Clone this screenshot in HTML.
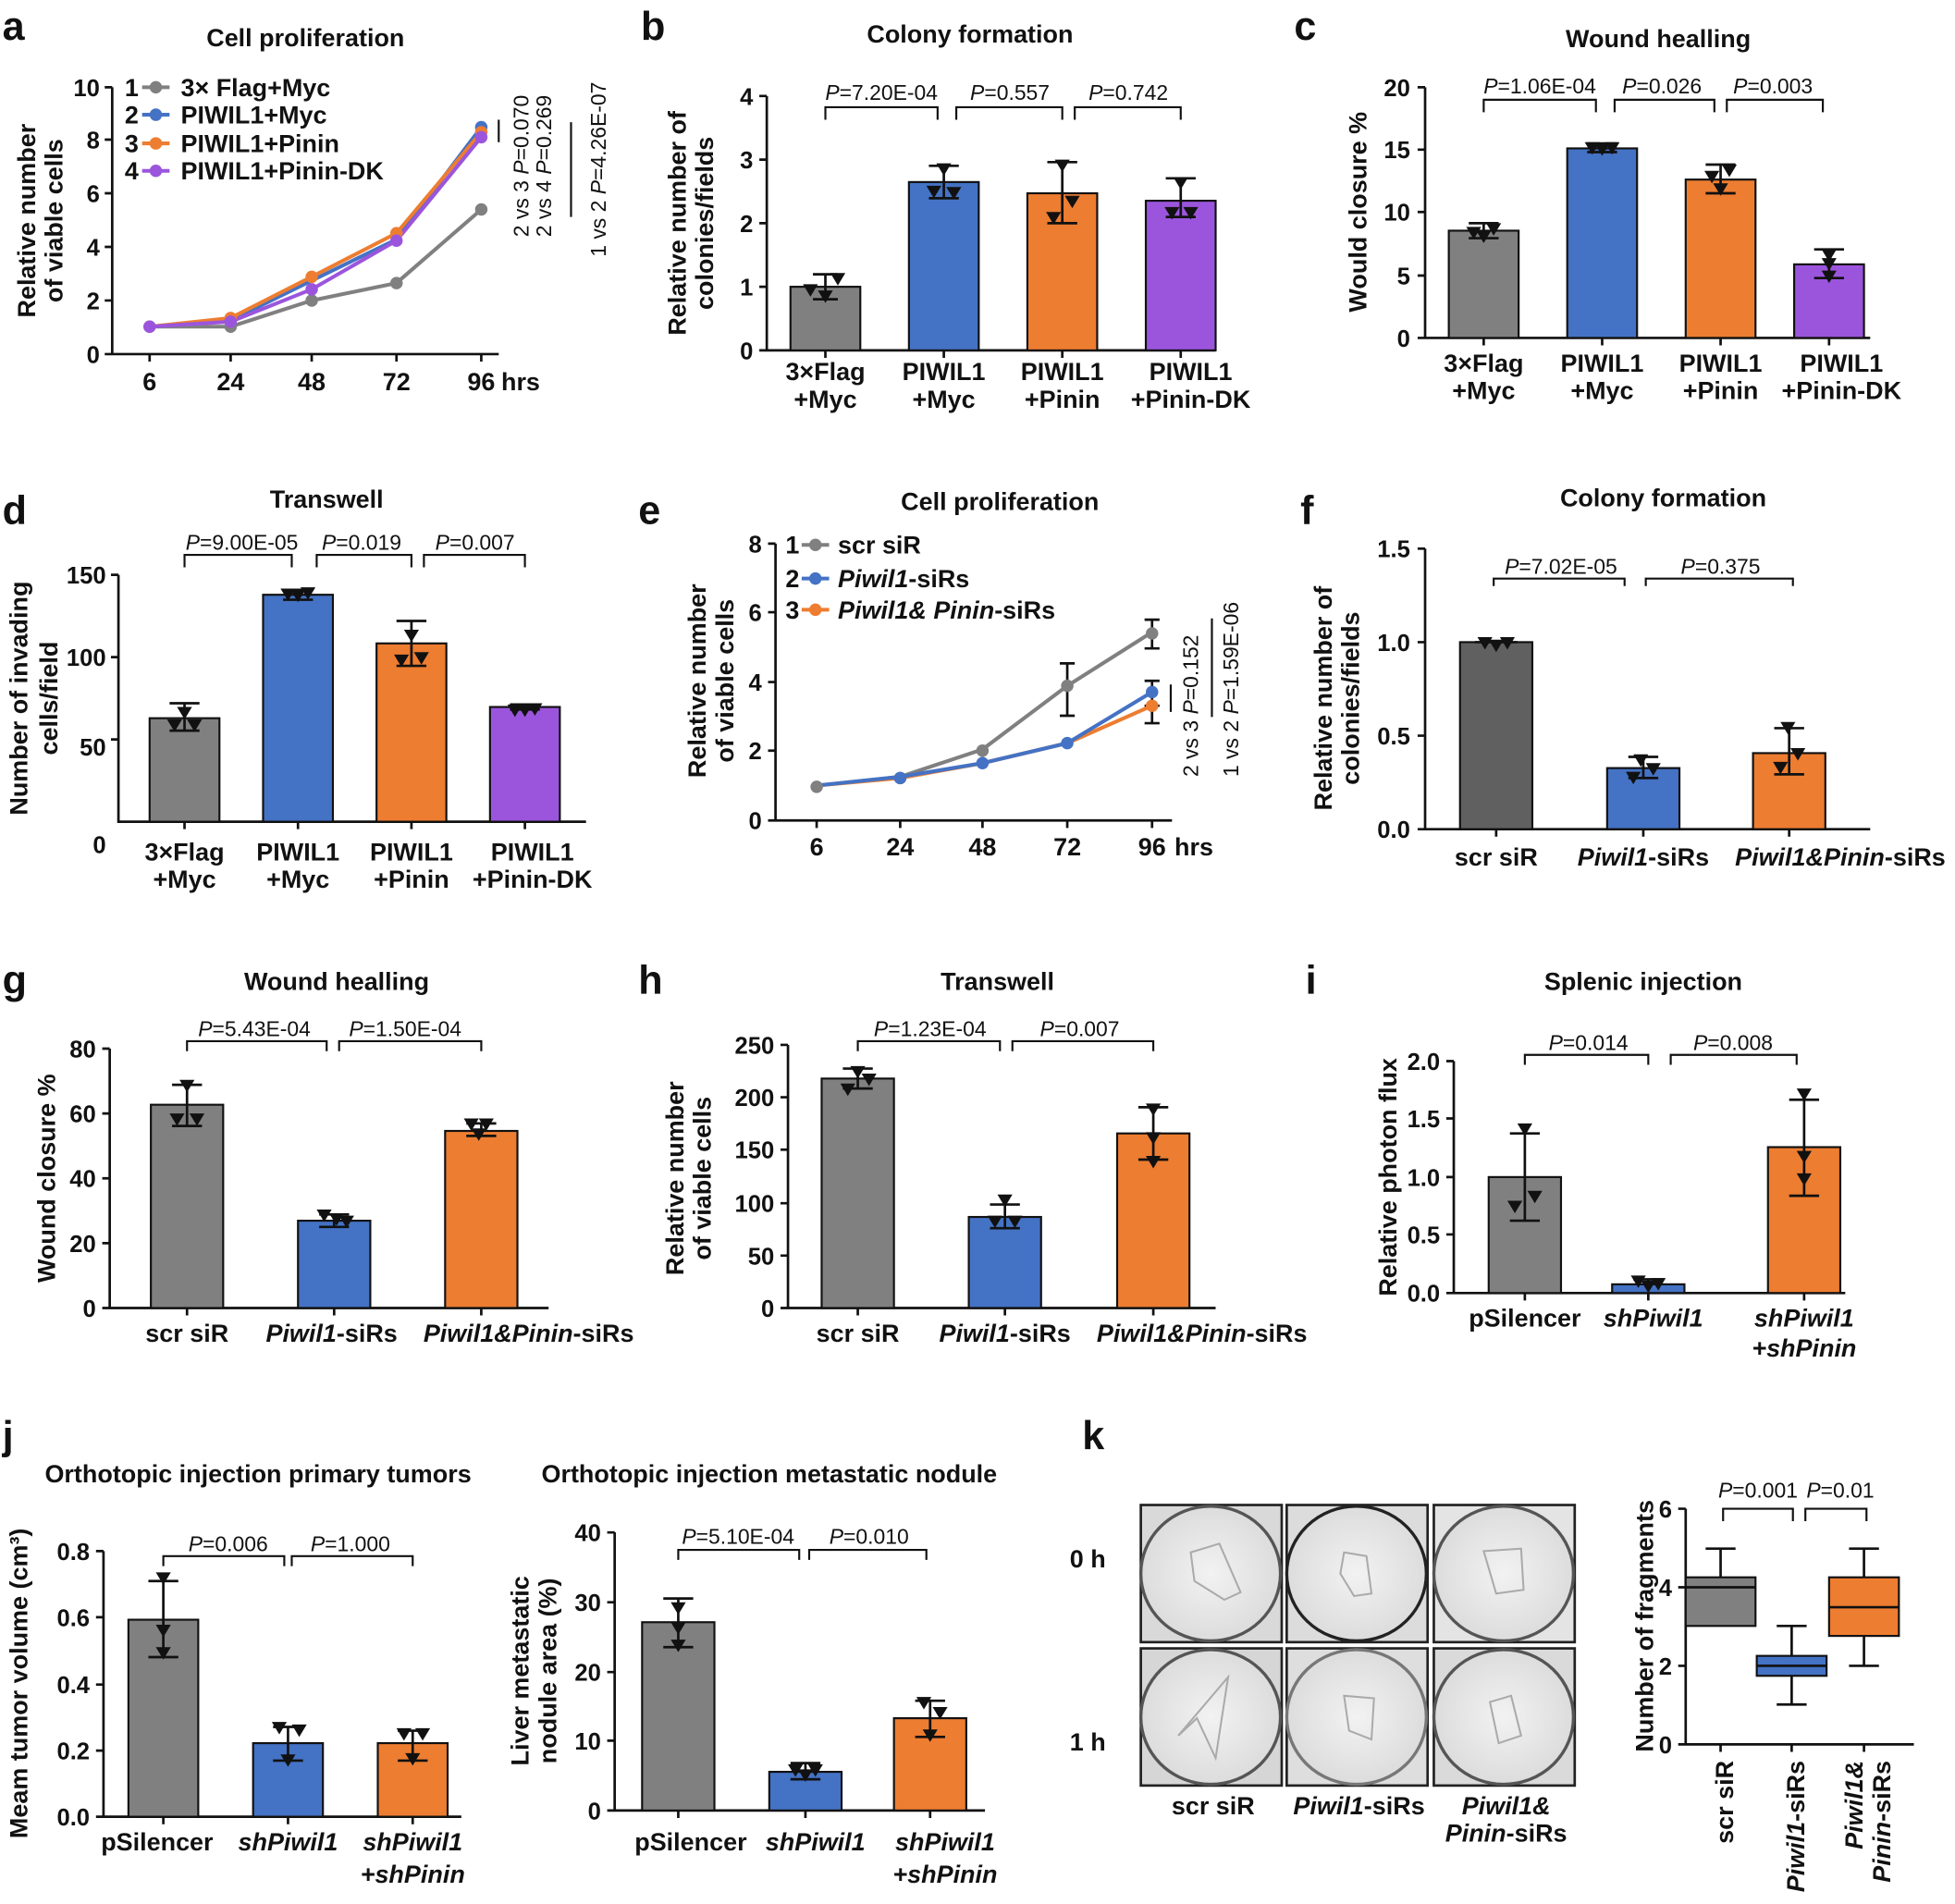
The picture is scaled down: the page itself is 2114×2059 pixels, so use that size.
<!DOCTYPE html>
<html><head><meta charset="utf-8">
<style>
html,body{margin:0;padding:0;background:#fff;}
svg{display:block;}
text{font-family:"Liberation Sans",Arial,sans-serif;fill:#111;}
.t{font-size:19px;font-weight:bold;}
.ax{font-size:20px;font-weight:bold;}
.ti{font-size:20px;font-weight:bold;}
.L{font-size:32px;font-weight:bold;}
.p{font-size:17px;}
.lg{font-size:20px;font-weight:bold;}
.a{stroke:#111;stroke-width:2;fill:none;}
.e{stroke:#111;stroke-width:2;fill:none;}
.br{stroke:#111;stroke-width:1.6;fill:none;}
.g{fill:#808080;stroke:#111;stroke-width:1.6;}
.b{fill:#4472c4;stroke:#111;stroke-width:1.6;}
.o{fill:#ed7d31;stroke:#111;stroke-width:1.6;}
.u{fill:#9b55dd;stroke:#111;stroke-width:1.6;}
.dg{fill:#606060;stroke:#111;stroke-width:1.6;}
.m{fill:#111;}
</style></head><body>
<svg width="2114" height="2059" viewBox="0 0 1568 1527" preserveAspectRatio="none" xmlns="http://www.w3.org/2000/svg">
<defs>
<polygon id="tr" points="-6,-5 6,-5 0,5" class="m"/>
<radialGradient id="plate" cx="50%" cy="50%" r="60%"><stop offset="0" stop-color="#f2f2f2"/><stop offset="1" stop-color="#d8d8d8"/></radialGradient>
</defs>

<!-- ============ a ============ -->
<text x="2" y="32" class="L">a</text>
<text x="245" y="37" class="ti" text-anchor="middle">Cell proliferation</text>
<text transform="translate(28,177) rotate(-90)" class="ax" text-anchor="middle">Relative number</text>
<text transform="translate(50,177) rotate(-90)" class="ax" text-anchor="middle">of viable cells</text>
<path class="a" d="M90,70V284H400M84,70H90M84,112H90M84,155H90M84,198H90M84,241H90M84,284H90M120,284v6M185,284v6M250,284v6M318,284v6M386,284v6"/>
<g class="t" text-anchor="end"><text x="80" y="77">10</text><text x="80" y="119">8</text><text x="80" y="162">6</text><text x="80" y="205">4</text><text x="80" y="248">2</text><text x="80" y="291">0</text></g>
<g class="ax" text-anchor="middle"><text x="120" y="313">6</text><text x="185" y="313">24</text><text x="250" y="313">48</text><text x="318" y="313">72</text><text x="386" y="313">96</text></g>
<text x="402" y="313" class="ax">hrs</text>
<polyline points="120,262 185,262 250,241 318,227 386,168" fill="none" stroke="#808080" stroke-width="3"/>
<polyline points="120,262 185,257 250,225 318,192 386,102" fill="none" stroke="#4472c4" stroke-width="3"/>
<polyline points="120,262 185,255 250,222 318,187 386,106" fill="none" stroke="#ed7d31" stroke-width="3"/>
<polyline points="120,262 185,258 250,232 318,193 386,110" fill="none" stroke="#9b55dd" stroke-width="3"/>
<g fill="#808080"><circle cx="120" cy="262" r="5"/><circle cx="185" cy="262" r="5"/><circle cx="250" cy="241" r="5"/><circle cx="318" cy="227" r="5"/><circle cx="386" cy="168" r="5"/></g>
<g fill="#4472c4"><circle cx="185" cy="257" r="5"/><circle cx="386" cy="102" r="5"/></g>
<g fill="#ed7d31"><circle cx="185" cy="255" r="5"/><circle cx="250" cy="222" r="5"/><circle cx="318" cy="187" r="5"/><circle cx="386" cy="106" r="5"/></g>
<g fill="#9b55dd"><circle cx="120" cy="262" r="5"/><circle cx="185" cy="258" r="5"/><circle cx="250" cy="232" r="5"/><circle cx="318" cy="193" r="5"/><circle cx="386" cy="110" r="5"/></g>
<g class="lg">
<text x="100" y="77">1</text><line x1="114" y1="70" x2="136" y2="70" stroke="#808080" stroke-width="3"/><circle cx="125" cy="70" r="5" fill="#808080"/><text x="145" y="77">3× Flag+Myc</text>
<text x="100" y="99">2</text><line x1="114" y1="92" x2="136" y2="92" stroke="#4472c4" stroke-width="3"/><circle cx="125" cy="92" r="5" fill="#4472c4"/><text x="145" y="99">PIWIL1+Myc</text>
<text x="100" y="122">3</text><line x1="114" y1="115" x2="136" y2="115" stroke="#ed7d31" stroke-width="3"/><circle cx="125" cy="115" r="5" fill="#ed7d31"/><text x="145" y="122">PIWIL1+Pinin</text>
<text x="100" y="144">4</text><line x1="114" y1="137" x2="136" y2="137" stroke="#9b55dd" stroke-width="3"/><circle cx="125" cy="137" r="5" fill="#9b55dd"/><text x="145" y="144">PIWIL1+Pinin-DK</text>
</g>
<path class="br" d="M400,96V114M458,98V174"/>
<text transform="translate(424,190) rotate(-90)" class="p">2 vs 3 <tspan font-style="italic">P</tspan>=0.070</text>
<text transform="translate(442,190) rotate(-90)" class="p">2 vs 4 <tspan font-style="italic">P</tspan>=0.269</text>
<text transform="translate(486,206) rotate(-90)" class="p">1 vs 2 <tspan font-style="italic">P</tspan>=4.26E-07</text>

<!-- ============ b ============ -->
<text x="514" y="32" class="L">b</text>
<text x="778" y="34" class="ti" text-anchor="middle">Colony formation</text>
<text transform="translate(550,179) rotate(-90)" class="ax" text-anchor="middle">Relative number of</text>
<text transform="translate(572,179) rotate(-90)" class="ax" text-anchor="middle">colonies/fields</text>
<path class="a" d="M615,77V281H975M609,77H615M609,128H615M609,179H615M609,230H615M609,281H615M662,281v6M757,281v6M852,281v6M947,281v6"/>
<g class="t" text-anchor="end"><text x="604" y="84">4</text><text x="604" y="135">3</text><text x="604" y="186">2</text><text x="604" y="237">1</text><text x="604" y="288">0</text></g>
<rect x="634" y="230" width="56" height="51" class="g"/><rect x="729" y="146" width="56" height="135" class="b"/><rect x="824" y="155" width="56" height="126" class="o"/><rect x="919" y="161" width="56" height="120" class="u"/>
<path class="e" d="M662,220V240M652,220h20M652,240h20M757,133V159M745,133h24M745,159h24M852,130V179M840,130h24M840,179h24M947,143V174M935,143h24M935,174h24"/>
<use href="#tr" x="650" y="233"/><use href="#tr" x="662" y="238"/><use href="#tr" x="672" y="224"/>
<use href="#tr" x="757" y="136"/><use href="#tr" x="749" y="154"/><use href="#tr" x="765" y="155"/>
<use href="#tr" x="852" y="133"/><use href="#tr" x="845" y="175"/><use href="#tr" x="860" y="162"/>
<use href="#tr" x="947" y="147"/><use href="#tr" x="940" y="171"/><use href="#tr" x="955" y="171"/>
<path class="br" d="M662,96V86H752V96M767,96V86H852V96M862,96V86H947V96"/>
<g class="p" text-anchor="middle"><text x="707" y="80"><tspan font-style="italic">P</tspan>=7.20E-04</text><text x="810" y="80"><tspan font-style="italic">P</tspan>=0.557</text><text x="905" y="80"><tspan font-style="italic">P</tspan>=0.742</text></g>
<g class="ax" text-anchor="middle"><text x="662" y="305">3×Flag</text><text x="662" y="327">+Myc</text><text x="757" y="305">PIWIL1</text><text x="757" y="327">+Myc</text><text x="852" y="305">PIWIL1</text><text x="852" y="327">+Pinin</text><text x="955" y="305">PIWIL1</text><text x="955" y="327">+Pinin-DK</text></g>

<!-- ============ c ============ -->
<text x="1038" y="32" class="L">c</text>
<text x="1330" y="38" class="ti" text-anchor="middle">Wound healling</text>
<text transform="translate(1096,170) rotate(-90)" class="ax" text-anchor="middle">Would closure %</text>
<path class="a" d="M1143,70V271H1500M1137,70H1143M1137,120H1143M1137,170H1143M1137,221H1143M1137,271H1143M1190,271v6M1285,271v6M1380,271v6M1467,271v6"/>
<g class="t" text-anchor="end"><text x="1131" y="77">20</text><text x="1131" y="127">15</text><text x="1131" y="177">10</text><text x="1131" y="228">5</text><text x="1131" y="278">0</text></g>
<rect x="1162" y="185" width="56" height="86" class="g"/><rect x="1257" y="119" width="56" height="152" class="b"/><rect x="1352" y="144" width="56" height="127" class="o"/><rect x="1439" y="212" width="56" height="59" class="u"/>
<path class="e" d="M1190,179V191M1178,179h24M1178,191h24M1285,115V122M1273,115h24M1273,122h24M1380,132V155M1368,132h24M1368,155h24M1467,200V223M1455,200h24M1455,223h24"/>
<use href="#tr" x="1182" y="187"/><use href="#tr" x="1198" y="184"/><use href="#tr" x="1190" y="190"/>
<use href="#tr" x="1277" y="119"/><use href="#tr" x="1293" y="119"/><use href="#tr" x="1285" y="120"/>
<use href="#tr" x="1373" y="142"/><use href="#tr" x="1387" y="137"/><use href="#tr" x="1380" y="152"/>
<use href="#tr" x="1467" y="205"/><use href="#tr" x="1467" y="222"/><use href="#tr" x="1467" y="212"/>
<path class="br" d="M1190,90V80H1280V90M1295,90V80H1375V90M1385,90V80H1462V90"/>
<g class="p" text-anchor="middle"><text x="1235" y="75"><tspan font-style="italic">P</tspan>=1.06E-04</text><text x="1333" y="75"><tspan font-style="italic">P</tspan>=0.026</text><text x="1422" y="75"><tspan font-style="italic">P</tspan>=0.003</text></g>
<g class="ax" text-anchor="middle"><text x="1190" y="298">3×Flag</text><text x="1190" y="320">+Myc</text><text x="1285" y="298">PIWIL1</text><text x="1285" y="320">+Myc</text><text x="1380" y="298">PIWIL1</text><text x="1380" y="320">+Pinin</text><text x="1477" y="298">PIWIL1</text><text x="1477" y="320">+Pinin-DK</text></g>

<!-- ============ d ============ -->
<text x="2" y="420" class="L">d</text>
<text x="262" y="407" class="ti" text-anchor="middle">Transwell</text>
<text transform="translate(22,560) rotate(-90)" class="ax" text-anchor="middle">Number of invading</text>
<text transform="translate(46,560) rotate(-90)" class="ax" text-anchor="middle">cells/field</text>
<path class="a" d="M95,461V659H470M89,461H95M89,527H95M89,593H95M148,659v6M239,659v6M330,659v6M421,659v6"/>
<g class="t" text-anchor="end"><text x="85" y="468">150</text><text x="85" y="534">100</text><text x="85" y="606">50</text><text x="85" y="684">0</text></g>
<rect x="120" y="576" width="56" height="83" class="g"/><rect x="211" y="477" width="56" height="182" class="b"/><rect x="302" y="516" width="56" height="143" class="o"/><rect x="393" y="567" width="56" height="92" class="u"/>
<path class="e" d="M148,564V586M136,564h24M136,586h24M239,473V481M227,473h24M227,481h24M330,498V534M318,498h24M318,534h24M421,565V569M409,565h24M409,569h24"/>
<use href="#tr" x="148" y="572"/><use href="#tr" x="140" y="582"/><use href="#tr" x="156" y="582"/>
<use href="#tr" x="231" y="477"/><use href="#tr" x="239" y="478"/><use href="#tr" x="247" y="476"/>
<use href="#tr" x="330" y="510"/><use href="#tr" x="322" y="530"/><use href="#tr" x="338" y="528"/>
<use href="#tr" x="413" y="570"/><use href="#tr" x="421" y="570"/><use href="#tr" x="429" y="569"/>
<path class="br" d="M148,455V445H234V455M254,455V445H330V455M340,455V445H421V455"/>
<g class="p" text-anchor="middle"><text x="194" y="441"><tspan font-style="italic">P</tspan>=9.00E-05</text><text x="290" y="441"><tspan font-style="italic">P</tspan>=0.019</text><text x="381" y="441"><tspan font-style="italic">P</tspan>=0.007</text></g>
<g class="ax" text-anchor="middle"><text x="148" y="690">3×Flag</text><text x="148" y="712">+Myc</text><text x="239" y="690">PIWIL1</text><text x="239" y="712">+Myc</text><text x="330" y="690">PIWIL1</text><text x="330" y="712">+Pinin</text><text x="427" y="690">PIWIL1</text><text x="427" y="712">+Pinin-DK</text></g>

<!-- ============ e ============ -->
<text x="512" y="420" class="L">e</text>
<text x="802" y="409" class="ti" text-anchor="middle">Cell proliferation</text>
<text transform="translate(566,546) rotate(-90)" class="ax" text-anchor="middle">Relative number</text>
<text transform="translate(588,546) rotate(-90)" class="ax" text-anchor="middle">of viable cells</text>
<path class="a" d="M622,436V658H940M616,436H622M616,491H622M616,547H622M616,602H622M616,658H622M655,658v6M722,658v6M788,658v6M856,658v6M924,658v6"/>
<g class="t" text-anchor="end"><text x="611" y="443">8</text><text x="611" y="498">6</text><text x="611" y="554">4</text><text x="611" y="609">2</text><text x="611" y="665">0</text></g>
<g class="ax" text-anchor="middle"><text x="655" y="686">6</text><text x="722" y="686">24</text><text x="788" y="686">48</text><text x="856" y="686">72</text><text x="924" y="686">96</text></g>
<text x="942" y="686" class="ax">hrs</text>
<path class="e" d="M856,532V574M850,532h12M850,574h12M924,497V520M918,497h12M918,520h12M924,546V566M918,546h12M918,566h12M924,565V580M918,580h12"/>
<polyline points="655,630 722,623 788,601 856,550 924,507" fill="none" stroke="#808080" stroke-width="3"/>
<polyline points="655,630 722,624 788,612 856,596 924,566" fill="none" stroke="#ed7d31" stroke-width="3"/>
<polyline points="655,630 722,623 788,612 856,596 924,555" fill="none" stroke="#4472c4" stroke-width="3"/>
<g fill="#808080"><circle cx="655" cy="631" r="5"/><circle cx="722" cy="624" r="5"/><circle cx="788" cy="602" r="5"/><circle cx="856" cy="550" r="5"/><circle cx="924" cy="508" r="5"/></g>
<g fill="#4472c4"><circle cx="722" cy="624" r="5"/><circle cx="788" cy="612" r="5"/><circle cx="856" cy="596" r="5"/><circle cx="924" cy="555" r="5"/></g>
<g fill="#ed7d31"><circle cx="924" cy="566" r="5"/></g>
<g class="lg">
<text x="630" y="444">1</text><line x1="643" y1="437" x2="665" y2="437" stroke="#808080" stroke-width="3"/><circle cx="654" cy="437" r="5" fill="#808080"/><text x="672" y="444">scr siR</text>
<text x="630" y="471">2</text><line x1="643" y1="464" x2="665" y2="464" stroke="#4472c4" stroke-width="3"/><circle cx="654" cy="464" r="5" fill="#4472c4"/><text x="672" y="471"><tspan font-style="italic">Piwil1</tspan>-siRs</text>
<text x="630" y="496">3</text><line x1="643" y1="489" x2="665" y2="489" stroke="#ed7d31" stroke-width="3"/><circle cx="654" cy="489" r="5" fill="#ed7d31"/><text x="672" y="496"><tspan font-style="italic">Piwil1&amp; Pinin</tspan>-siRs</text>
</g>
<path class="br" d="M939,549V571M972,496V575"/>
<text transform="translate(961,623) rotate(-90)" class="p">2 vs 3 <tspan font-style="italic">P</tspan>=0.152</text>
<text transform="translate(993,623) rotate(-90)" class="p">1 vs 2 <tspan font-style="italic">P</tspan>=1.59E-06</text>

<!-- ============ f ============ -->
<text x="1043" y="420" class="L">f</text>
<text x="1334" y="406" class="ti" text-anchor="middle">Colony formation</text>
<text transform="translate(1068,560) rotate(-90)" class="ax" text-anchor="middle">Relative number of</text>
<text transform="translate(1090,560) rotate(-90)" class="ax" text-anchor="middle">colonies/fields</text>
<path class="a" d="M1143,440V665H1500M1137,440H1143M1137,515H1143M1137,590H1143M1137,665H1143M1200,665v6M1318,665v6M1435,665v6"/>
<g class="t" text-anchor="end"><text x="1131" y="447">1.5</text><text x="1131" y="522">1.0</text><text x="1131" y="597">0.5</text><text x="1131" y="672">0.0</text></g>
<rect x="1171" y="515" width="58" height="150" class="dg"/><rect x="1289" y="616" width="58" height="49" class="b"/><rect x="1406" y="604" width="58" height="61" class="o"/>
<path class="e" d="M1183,515H1217M1318,607V624M1306,607h24M1306,624h24M1435,584V621M1423,584h24M1423,621h24"/>
<use href="#tr" x="1191" y="516"/><use href="#tr" x="1200" y="518"/><use href="#tr" x="1209" y="516"/>
<use href="#tr" x="1316" y="610"/><use href="#tr" x="1326" y="617"/><use href="#tr" x="1310" y="624"/>
<use href="#tr" x="1434" y="584"/><use href="#tr" x="1442" y="605"/><use href="#tr" x="1428" y="616"/>
<path class="br" d="M1198,470V464H1303V470M1320,470V464H1438V470"/>
<g class="p" text-anchor="middle"><text x="1252" y="460"><tspan font-style="italic">P</tspan>=7.02E-05</text><text x="1380" y="460"><tspan font-style="italic">P</tspan>=0.375</text></g>
<g class="ax" text-anchor="middle"><text x="1200" y="694">scr siR</text><text x="1318" y="694"><tspan font-style="italic">Piwil1</tspan>-siRs</text><text x="1476" y="694"><tspan font-style="italic">Piwil1&amp;Pinin</tspan>-siRs</text></g>

<!-- ============ g ============ -->
<text x="2" y="797" class="L">g</text>
<text x="270" y="794" class="ti" text-anchor="middle">Wound healling</text>
<text transform="translate(44,945) rotate(-90)" class="ax" text-anchor="middle">Wound closure %</text>
<path class="a" d="M88,841V1049H440M82,841H88M82,893H88M82,945H88M82,997H88M82,1049H88M150,1049v6M268,1049v6M386,1049v6"/>
<g class="t" text-anchor="end"><text x="77" y="848">80</text><text x="77" y="900">60</text><text x="77" y="952">40</text><text x="77" y="1004">20</text><text x="77" y="1056">0</text></g>
<rect x="121" y="886" width="58" height="163" class="g"/><rect x="239" y="979" width="58" height="70" class="b"/><rect x="357" y="907" width="58" height="142" class="o"/>
<path class="e" d="M150,870V903M138,870h24M138,903h24M268,974V984M256,974h24M256,984h24M386,901V911M374,901h24M374,911h24"/>
<use href="#tr" x="150" y="871"/><use href="#tr" x="142" y="898"/><use href="#tr" x="158" y="898"/>
<use href="#tr" x="260" y="975"/><use href="#tr" x="270" y="978"/><use href="#tr" x="278" y="980"/>
<use href="#tr" x="378" y="902"/><use href="#tr" x="390" y="902"/><use href="#tr" x="384" y="910"/>
<path class="br" d="M150,843V835H262V843M272,843V835H386V843"/>
<g class="p" text-anchor="middle"><text x="204" y="831"><tspan font-style="italic">P</tspan>=5.43E-04</text><text x="325" y="831"><tspan font-style="italic">P</tspan>=1.50E-04</text></g>
<g class="ax" text-anchor="middle"><text x="150" y="1076">scr siR</text><text x="266" y="1076"><tspan font-style="italic">Piwil1</tspan>-siRs</text><text x="424" y="1076"><tspan font-style="italic">Piwil1&amp;Pinin</tspan>-siRs</text></g>

<!-- ============ h ============ -->
<text x="512" y="797" class="L">h</text>
<text x="800" y="794" class="ti" text-anchor="middle">Transwell</text>
<text transform="translate(548,945) rotate(-90)" class="ax" text-anchor="middle">Relative number</text>
<text transform="translate(570,945) rotate(-90)" class="ax" text-anchor="middle">of viable cells</text>
<path class="a" d="M632,838V1049H975M626,838H632M626,880H632M626,922H632M626,965H632M626,1007H632M626,1049H632M688,1049v6M806,1049v6M925,1049v6"/>
<g class="t" text-anchor="end"><text x="621" y="845">250</text><text x="621" y="887">200</text><text x="621" y="929">150</text><text x="621" y="972">100</text><text x="621" y="1014">50</text><text x="621" y="1056">0</text></g>
<rect x="659" y="865" width="58" height="184" class="g"/><rect x="777" y="976" width="58" height="73" class="b"/><rect x="896" y="909" width="58" height="140" class="o"/>
<path class="e" d="M688,857V873M676,857h24M676,873h24M806,966V985M794,966h24M794,985h24M925,888V930M913,888h24M913,930h24"/>
<use href="#tr" x="688" y="860"/><use href="#tr" x="680" y="874"/><use href="#tr" x="697" y="866"/>
<use href="#tr" x="806" y="963"/><use href="#tr" x="798" y="980"/><use href="#tr" x="814" y="980"/>
<use href="#tr" x="925" y="890"/><use href="#tr" x="925" y="913"/><use href="#tr" x="925" y="932"/>
<path class="br" d="M688,843V835H802V843M812,843V835H925V843"/>
<g class="p" text-anchor="middle"><text x="746" y="831"><tspan font-style="italic">P</tspan>=1.23E-04</text><text x="866" y="831"><tspan font-style="italic">P</tspan>=0.007</text></g>
<g class="ax" text-anchor="middle"><text x="688" y="1076">scr siR</text><text x="806" y="1076"><tspan font-style="italic">Piwil1</tspan>-siRs</text><text x="964" y="1076"><tspan font-style="italic">Piwil1&amp;Pinin</tspan>-siRs</text></g>

<!-- ============ i ============ -->
<text x="1047" y="797" class="L">i</text>
<text x="1318" y="794" class="ti" text-anchor="middle">Splenic injection</text>
<text transform="translate(1120,944) rotate(-90)" class="ax" text-anchor="middle">Relative photon flux</text>
<path class="a" d="M1166,851V1037H1480M1160,851H1166M1160,897H1166M1160,944H1166M1160,990H1166M1160,1037H1166M1223,1037v6M1322,1037v6M1447,1037v6"/>
<g class="t" text-anchor="end"><text x="1155" y="858">2.0</text><text x="1155" y="904">1.5</text><text x="1155" y="951">1.0</text><text x="1155" y="997">0.5</text><text x="1155" y="1044">0.0</text></g>
<rect x="1194" y="944" width="58" height="93" class="g"/><rect x="1293" y="1030" width="58" height="7" class="b"/><rect x="1418" y="920" width="58" height="117" class="o"/>
<path class="e" d="M1223,909V979M1211,909h24M1211,979h24M1322,1026V1034M1310,1026h24M1447,882V959M1435,882h24M1435,959h24"/>
<use href="#tr" x="1223" y="906"/><use href="#tr" x="1215" y="968"/><use href="#tr" x="1231" y="960"/>
<use href="#tr" x="1314" y="1028"/><use href="#tr" x="1322" y="1032"/><use href="#tr" x="1330" y="1030"/>
<use href="#tr" x="1447" y="878"/><use href="#tr" x="1447" y="928"/><use href="#tr" x="1447" y="946"/>
<path class="br" d="M1223,854V846H1322V854M1340,854V846H1441V854"/>
<g class="p" text-anchor="middle"><text x="1274" y="842"><tspan font-style="italic">P</tspan>=0.014</text><text x="1390" y="842"><tspan font-style="italic">P</tspan>=0.008</text></g>
<g class="ax" text-anchor="middle"><text x="1223" y="1064">pSilencer</text><text x="1326" y="1064" font-style="italic">shPiwil1</text><text x="1447" y="1064" font-style="italic">shPiwil1</text><text x="1447" y="1088" font-style="italic">+shPinin</text></g>

<!-- ============ j ============ -->
<text x="2" y="1162" class="L">j</text>
<text x="207" y="1189" class="ti" text-anchor="middle">Orthotopic injection primary tumors</text>
<text x="617" y="1189" class="ti" text-anchor="middle">Orthotopic injection metastatic nodule</text>
<text transform="translate(22,1350) rotate(-90)" class="ax" text-anchor="middle">Meam tumor volume (cm³)</text>
<path class="a" d="M83,1244V1457H370M77,1244H83M77,1297H83M77,1351H83M77,1404H83M77,1457H83M131,1457v6M231,1457v6M331,1457v6"/>
<g class="t" text-anchor="end"><text x="72" y="1251">0.8</text><text x="72" y="1304">0.6</text><text x="72" y="1358">0.4</text><text x="72" y="1411">0.2</text><text x="72" y="1464">0.0</text></g>
<rect x="103" y="1299" width="56" height="158" class="g"/><rect x="203" y="1398" width="56" height="59" class="b"/><rect x="303" y="1398" width="56" height="59" class="o"/>
<path class="e" d="M131,1268V1329M119,1268h24M119,1329h24M231,1385V1412M219,1385h24M219,1412h24M331,1388V1412M319,1388h24M319,1412h24"/>
<use href="#tr" x="131" y="1266"/><use href="#tr" x="131" y="1326"/><use href="#tr" x="131" y="1308"/>
<use href="#tr" x="224" y="1386"/><use href="#tr" x="240" y="1388"/><use href="#tr" x="231" y="1412"/>
<use href="#tr" x="324" y="1391"/><use href="#tr" x="339" y="1391"/><use href="#tr" x="331" y="1411"/>
<path class="br" d="M131,1256V1248H228V1256M234,1256V1248H331V1256"/>
<g class="p" text-anchor="middle"><text x="183" y="1244"><tspan font-style="italic">P</tspan>=0.006</text><text x="281" y="1244"><tspan font-style="italic">P</tspan>=1.000</text></g>
<g class="ax" text-anchor="middle"><text x="126" y="1484">pSilencer</text><text x="231" y="1484" font-style="italic">shPiwil1</text><text x="331" y="1484" font-style="italic">shPiwil1</text><text x="331" y="1510" font-style="italic">+shPinin</text></g>

<text transform="translate(424,1340) rotate(-90)" class="ax" text-anchor="middle">Liver metastatic</text>
<text transform="translate(446,1340) rotate(-90)" class="ax" text-anchor="middle">nodule area (%)</text>
<path class="a" d="M493,1229V1452H790M487,1229H493M487,1285H493M487,1341H493M487,1396H493M487,1452H493M544,1452v6M646,1452v6M746,1452v6"/>
<g class="t" text-anchor="end"><text x="482" y="1236">40</text><text x="482" y="1292">30</text><text x="482" y="1348">20</text><text x="482" y="1403">10</text><text x="482" y="1459">0</text></g>
<rect x="515" y="1301" width="58" height="151" class="g"/><rect x="617" y="1421" width="58" height="31" class="b"/><rect x="717" y="1378" width="58" height="74" class="o"/>
<path class="e" d="M544,1282V1321M532,1282h24M532,1321h24M646,1414V1427M634,1414h24M634,1427h24M746,1364V1393M734,1364h24M734,1393h24"/>
<use href="#tr" x="544" y="1290"/><use href="#tr" x="544" y="1320"/><use href="#tr" x="544" y="1306"/>
<use href="#tr" x="638" y="1420"/><use href="#tr" x="654" y="1420"/><use href="#tr" x="646" y="1424"/>
<use href="#tr" x="741" y="1366"/><use href="#tr" x="754" y="1374"/><use href="#tr" x="746" y="1392"/>
<path class="br" d="M544,1251V1243H641V1251M649,1251V1243H743V1251"/>
<g class="p" text-anchor="middle"><text x="592" y="1238"><tspan font-style="italic">P</tspan>=5.10E-04</text><text x="697" y="1238"><tspan font-style="italic">P</tspan>=0.010</text></g>
<g class="ax" text-anchor="middle"><text x="554" y="1484">pSilencer</text><text x="654" y="1484" font-style="italic">shPiwil1</text><text x="758" y="1484" font-style="italic">shPiwil1</text><text x="758" y="1510" font-style="italic">+shPinin</text></g>

<!-- ============ k ============ -->
<text x="868" y="1162" class="L">k</text>
<text x="858" y="1257" class="ax">0 h</text>
<text x="858" y="1404" class="ax">1 h</text>
<g stroke="#222" stroke-width="2">
<rect x="915" y="1207" width="113" height="110" fill="#d9d9d9"/><rect x="1032" y="1207" width="113" height="110" fill="#dcdcdc"/><rect x="1150" y="1207" width="113" height="110" fill="#e4e4e4"/>
<rect x="915" y="1322" width="113" height="110" fill="#d6d6d6"/><rect x="1032" y="1322" width="113" height="110" fill="#dedede"/><rect x="1150" y="1322" width="113" height="110" fill="#dadada"/>
</g>
<g fill="url(#plate)" stroke="#555" stroke-width="2.5">
<ellipse cx="971" cy="1262" rx="56" ry="54"/><ellipse cx="1088" cy="1262" rx="56" ry="54" stroke="#222"/><ellipse cx="1206" cy="1262" rx="56" ry="54"/>
<ellipse cx="971" cy="1377" rx="56" ry="54"/><ellipse cx="1088" cy="1377" rx="56" ry="54" stroke="#777"/><ellipse cx="1206" cy="1377" rx="56" ry="54"/>
</g>
<g fill="none" stroke="#aaa" stroke-width="1.5">
<path d="M955,1245L978,1238L995,1277L982,1283L958,1268Z"/><path d="M1078,1245L1096,1248L1100,1278L1086,1280L1075,1262Z"/><path d="M1190,1244L1220,1242L1222,1275L1200,1278Z"/>
<path d="M945,1392L985,1345L975,1410L960,1378Z"/><path d="M1078,1360L1102,1362L1100,1395L1082,1388Z"/><path d="M1195,1365L1212,1360L1220,1392L1202,1398Z"/>
</g>
<g class="ax" text-anchor="middle"><text x="973" y="1455">scr siR</text><text x="1090" y="1455"><tspan font-style="italic">Piwil1</tspan>-siRs</text><text x="1208" y="1455" font-style="italic">Piwil1&amp;</text><text x="1208" y="1477"><tspan font-style="italic">Pinin</tspan>-siRs</text></g>

<text transform="translate(1326,1304) rotate(-90)" class="ax" text-anchor="middle">Number of fragments</text>
<path class="a" d="M1352,1210V1399H1535M1346,1210H1352M1346,1273H1352M1346,1336H1352M1346,1399H1352M1380,1399v6M1437,1399v6M1495,1399v6"/>
<g class="t" text-anchor="end"><text x="1341" y="1217">6</text><text x="1341" y="1280">4</text><text x="1341" y="1343">2</text><text x="1341" y="1406">0</text></g>
<path class="e" d="M1380,1242V1304M1368,1242h24M1437,1304V1367M1425,1367h24M1425,1304h24M1495,1242V1336M1483,1242h24M1483,1336h24"/>
<rect x="1352" y="1265" width="56" height="39" class="g"/><line x1="1352" y1="1273" x2="1408" y2="1273" class="e"/>
<rect x="1409" y="1328" width="56" height="16" class="b"/><line x1="1409" y1="1336" x2="1465" y2="1336" class="e"/>
<rect x="1467" y="1265" width="56" height="47" class="o"/><line x1="1467" y1="1289" x2="1523" y2="1289" class="e"/>
<path class="br" d="M1382,1220V1210H1438V1220M1448,1220V1210H1497V1220"/>
<g class="p" text-anchor="middle"><text x="1410" y="1201"><tspan font-style="italic">P</tspan>=0.001</text><text x="1476" y="1201"><tspan font-style="italic">P</tspan>=0.01</text></g>
<g class="ax" text-anchor="end"><text transform="translate(1390,1412) rotate(-90)">scr siR</text><text transform="translate(1447,1412) rotate(-90)"><tspan font-style="italic">Piwil1</tspan>-siRs</text><text transform="translate(1494,1412) rotate(-90)" font-style="italic">Piwil1&amp;</text><text transform="translate(1516,1412) rotate(-90)"><tspan font-style="italic">Pinin</tspan>-siRs</text></g>
</svg>
</body></html>
